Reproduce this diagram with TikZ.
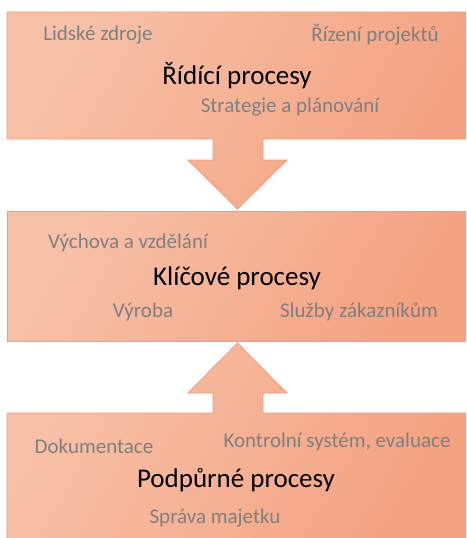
\documentclass[tikz,border=0pt]{standalone}
\usepackage{fontspec}
\setmainfont{Carlito}
\begin{document}
\definecolor{peachlight}{HTML}{F7C1A8}
\definecolor{peachdark}{HTML}{F4A281}
\definecolor{peachline}{HTML}{F09C7A}
\definecolor{labelgray}{HTML}{7F7F7F}
\begin{tikzpicture}[x=1pt,y=-1pt,
  block/.style={draw=peachline,line width=0.8pt,top color=peachlight,bottom color=peachdark,shading angle=60},
  title/.style={font=\fontsize{27}{32}\selectfont,text=black,inner sep=0pt},
  item/.style={font=\fontsize{21}{25}\selectfont,text=labelgray,inner sep=0pt}]
\useasboundingbox (0,0) rectangle (466,538);
\clip (0,0) rectangle (466,538);
% control processes with the arrow pointing down
\shade[block] (7,12) -- (470,12) -- (470,139) -- (263,139) -- (263,160) -- (287,160)
  -- (237.5,209) -- (188,160) -- (213,160) -- (213,139) -- (7,139) -- cycle;
% key processes
\shade[block] (7,211) rectangle (470,341);
% support processes with the arrow pointing up
\shade[block] (7,413) -- (213,413) -- (213,393) -- (188,393) -- (237.5,343) -- (287,393)
  -- (263,393) -- (263,413) -- (470,413) -- (470,542) -- (7,542) -- cycle;

\node[item]  (hr)   at (98,35)   {Lidské zdroje};
\node[item]  (pm)   at (375,35)  {Řízení projektů};
\node[title] (ctrl) at (237,76)  {Řídící procesy};
\node[item]  (plan) at (290,107) {Strategie a plánování};

\node[item]  (edu)  at (128,243) {Výchova a vzdělání};
\node[title] (key)  at (237,278) {Klíčové procesy};
\node[item]  (prod) at (143,312) {Výroba};
\node[item]  (cust) at (359,312) {Služby zákazníkům};

\node[item]  (doc)  at (94,446)  {Dokumentace};
\node[item]  (eval) at (337,442) {Kontrolní systém, evaluace};
\node[title] (supp) at (236,480) {Podpůrné procesy};
\node[item]  (prop) at (215,518) {Správa majetku};
\end{tikzpicture}
\end{document}
